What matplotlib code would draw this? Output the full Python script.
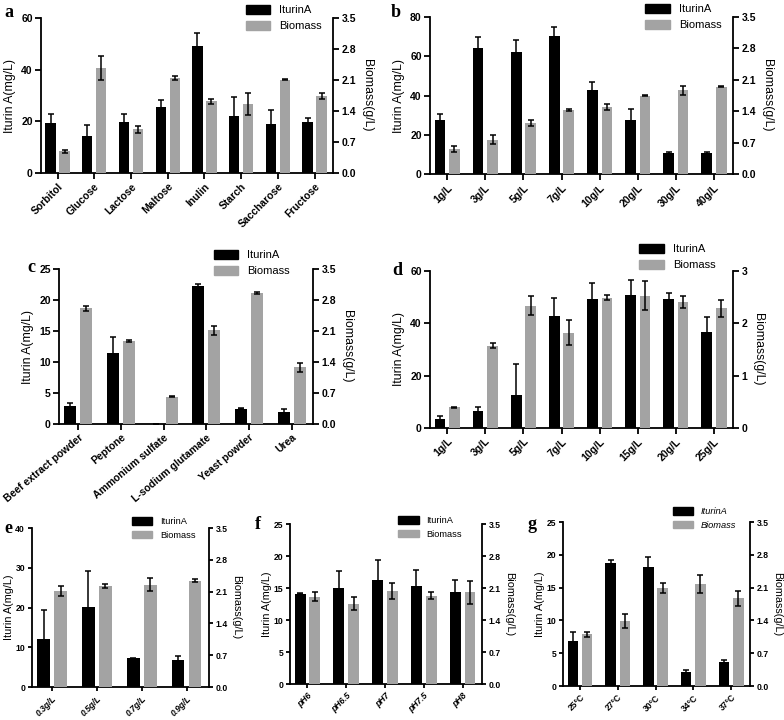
import numpy as np
import matplotlib.pyplot as plt
from matplotlib.patches import Patch

plt.rcParams['font.family'] = ['Liberation Sans', 'DejaVu Sans']

GRAY = '#a3a3a3'

# a - carbon source
carbon = ['Sorbitol', 'Glucose', 'Lactose', 'Maltose', 'Inulin', 'Starch', 'Saccharose', 'Fructose']
carbon_itu = [19.4, 14.2, 19.7, 25.4, 49.2, 21.9, 19.0, 19.8]
carbon_itu_err = [3.6, 4.5, 3.2, 2.9, 5.0, 7.5, 5.3, 1.4]
carbon_bio = [0.49, 2.37, 0.99, 2.14, 1.62, 1.55, 2.11, 1.73]
carbon_bio_err = [0.04, 0.28, 0.08, 0.05, 0.06, 0.25, 0.02, 0.07]

# b - carbon concentration
cconc = ['1g/L', '3g/L', '5g/L', '7g/L', '10g/L', '20g/L', '30g/L', '40g/L']
cconc_itu = [27.6, 64.3, 62.2, 70.5, 42.8, 27.7, 10.7, 10.7]
cconc_itu_err = [3.2, 5.6, 6.0, 4.6, 4.2, 5.4, 0.3, 0.5]
cconc_bio = [0.56, 0.76, 1.13, 1.43, 1.50, 1.75, 1.87, 1.95]
cconc_bio_err = [0.06, 0.10, 0.07, 0.02, 0.07, 0.02, 0.10, 0.02]

# c - nitrogen source
nitro = ['Beef extract powder', 'Peptone', 'Ammonium sulfate', 'L-sodium glutamate', 'Yeast powder', 'Urea']
nitro_itu = [2.9, 11.5, 0.0, 22.2, 2.5, 1.9]
nitro_itu_err = [0.5, 2.6, 0.0, 0.4, 0.15, 0.6]
nitro_bio = [2.61, 1.88, 0.62, 2.12, 2.96, 1.28]
nitro_bio_err = [0.05, 0.02, 0.01, 0.10, 0.03, 0.10]

# d - nitrogen concentration
nconc = ['1g/L', '3g/L', '5g/L', '7g/L', '10g/L', '15g/L', '20g/L', '25g/L']
nconc_itu = [3.6, 6.6, 12.7, 42.7, 49.4, 50.8, 49.4, 36.7]
nconc_itu_err = [0.8, 1.5, 11.8, 7.0, 6.0, 5.6, 2.2, 5.6]
nconc_bio = [0.40, 1.57, 2.34, 1.82, 2.49, 2.53, 2.41, 2.29]
nconc_bio_err = [0.01, 0.05, 0.18, 0.24, 0.05, 0.27, 0.12, 0.16]

# e - inoculum
inoc = ['0.3g/L', '0.5g/L', '0.7g/L', '0.9g/L']
inoc_itu = [12.0, 20.1, 7.2, 6.7]
inoc_itu_err = [7.4, 9.0, 0.2, 1.2]
inoc_bio = [2.11, 2.22, 2.25, 2.34]
inoc_bio_err = [0.11, 0.05, 0.14, 0.03]

# f - pH
ph = ['pH6', 'pH6.5', 'pH7', 'pH7.5', 'pH8']
ph_itu = [14.1, 15.0, 16.2, 15.3, 14.4]
ph_itu_err = [0.1, 2.7, 3.2, 2.5, 1.8]
ph_bio = [1.91, 1.76, 2.03, 1.93, 2.01]
ph_bio_err = [0.10, 0.15, 0.18, 0.08, 0.25]

# g - temperature
temp = ['25°C', '27°C', '30°C', '34°C', '37°C']
temp_itu = [6.8, 18.8, 18.2, 2.1, 3.7]
temp_itu_err = [1.4, 0.4, 1.4, 0.3, 0.3]
temp_bio = [1.10, 1.38, 2.09, 2.17, 1.87]
temp_bio_err = [0.05, 0.15, 0.10, 0.19, 0.16]

fig = plt.figure(figsize=(7.84, 7.2), dpi=100)


def panel(rect, cats, itu, itu_err, bio, bio_err, ymax, ystep, rmax, rticks, rfmt,
          letter, lpos, leg_anchor, rot=45, small=False, italic_x=False, italic_leg=False):
    fs = 6.2 if small else 7.5
    lfs = 7.8 if small else 8.8
    ax = fig.add_axes(rect)
    x = np.arange(len(cats))
    w = 0.28
    ekw = dict(ecolor='black', elinewidth=1.1, capthick=1.1)
    ax.bar(x - 0.19, itu, w, color='black', yerr=itu_err, capsize=2, error_kw=ekw)
    ax2 = ax.twinx()
    ax2.bar(x + 0.19, bio, w, color=GRAY, yerr=bio_err, capsize=2, error_kw=ekw)
    ax.set_xlim(-0.45, len(cats) - 0.5)
    ax.set_ylim(0, ymax)
    ax.set_yticks(np.arange(0, ymax + 0.01, ystep))
    ax2.set_ylim(0, rmax)
    ax2.set_yticks(rticks)
    ax2.set_yticklabels([rfmt.format(t) for t in rticks])
    ax.set_xticks(x)
    ax.set_xticklabels(cats, rotation=rot, ha='right', rotation_mode='anchor',
                       style='italic' if italic_x else 'normal')
    for a in (ax, ax2):
        a.spines['top'].set_visible(False)
        for s in a.spines.values():
            s.set_linewidth(1.3)
        a.tick_params(direction='out', width=1.3, length=4 if not small else 3,
                      labelsize=fs, pad=2)
        for lab in a.get_xticklabels() + a.get_yticklabels():
            lab.set_fontweight('bold')
    ax.spines['right'].set_visible(False)
    ax2.spines['left'].set_visible(False)
    ax2.spines['bottom'].set_visible(False)
    ax.set_ylabel('Iturin A(mg/L)', fontsize=lfs, labelpad=1 if small else 4)
    ax2.set_ylabel('Biomass(g/L)', fontsize=lfs, rotation=270, labelpad=9 if small else 12)
    handles = [Patch(color='black', label='IturinA'), Patch(color=GRAY, label='Biomass')]
    ax2.legend(handles=handles, loc='upper right', bbox_to_anchor=leg_anchor, frameon=False,
               handlelength=2.2, handleheight=0.9, borderpad=0, labelspacing=0.5,
               prop=dict(size=fs + 0.5, style='italic' if italic_leg else 'normal'))
    fig.text(lpos[0], lpos[1], letter, fontsize=13, fontweight='bold',
             family='Liberation Serif', va='top')
    return ax


r35 = [0.0, 0.7, 1.4, 2.1, 2.8, 3.5]
panel([0.0523, 0.7597, 0.3724, 0.2153], carbon, carbon_itu, carbon_itu_err, carbon_bio, carbon_bio_err,
      60, 20, 3.5, r35, '{:.1f}', 'a', (0.005, 0.995), (0.98, 1.12))
panel([0.5485, 0.7583, 0.3865, 0.218], cconc, cconc_itu, cconc_itu_err, cconc_bio, cconc_bio_err,
      80, 20, 3.5, r35, '{:.1f}', 'b', (0.498, 0.995), (0.98, 1.12))
panel([0.0753, 0.4111, 0.324, 0.2153], nitro, nitro_itu, nitro_itu_err, nitro_bio, nitro_bio_err,
      25, 5, 3.5, r35, '{:.1f}', 'c', (0.035, 0.64), (0.93, 1.16), rot=40)
panel([0.5485, 0.4056, 0.3865, 0.218], nconc, nconc_itu, nconc_itu_err, nconc_bio, nconc_bio_err,
      60, 20, 3, [0, 1, 2, 3], '{:d}', 'd', (0.5, 0.636), (0.96, 1.21))
panel([0.0408, 0.0458, 0.2258, 0.2208], inoc, inoc_itu, inoc_itu_err, inoc_bio, inoc_bio_err,
      40, 10, 3.5, r35, '{:.1f}', 'e', (0.005, 0.278), (0.95, 1.1), small=True, italic_x=True)
panel([0.3699, 0.05, 0.2449, 0.2222], ph, ph_itu, ph_itu_err, ph_bio, ph_bio_err,
      25, 5, 3.5, r35, '{:.1f}', 'f', (0.325, 0.283), (0.92, 1.08), small=True, italic_x=True)
panel([0.7181, 0.0472, 0.2385, 0.2278], temp, temp_itu, temp_itu_err, temp_bio, temp_bio_err,
      25, 5, 3.5, r35, '{:.1f}', 'g', (0.673, 0.283), (0.95, 1.12), small=True, italic_leg=True)

fig.savefig('out.png', dpi=100)
